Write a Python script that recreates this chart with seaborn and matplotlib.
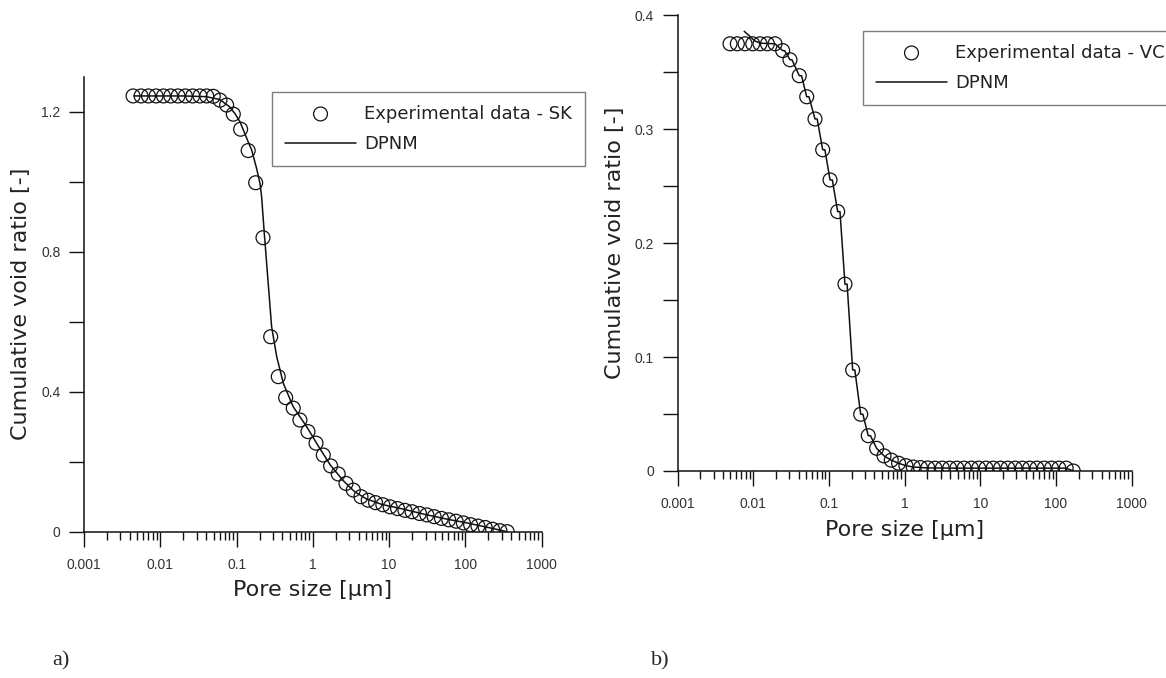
import matplotlib
matplotlib.use("Agg")
import matplotlib.pyplot as plt
import seaborn as sns
import pandas as pd
from matplotlib.ticker import LogLocator, NullFormatter

# experimental points, SK sample (panel a)
sk_size = [0.0044, 0.0056, 0.0070, 0.0088, 0.011, 0.0137, 0.0171, 0.0213, 0.0266, 0.0331,
           0.0406, 0.0495, 0.0606, 0.0741, 0.0906, 0.113, 0.142, 0.178, 0.222, 0.280,
           0.352, 0.440, 0.553, 0.677, 0.863, 1.10, 1.37, 1.71, 2.15, 2.72,
           3.39, 4.27, 5.32, 6.63, 8.27, 10.3, 12.9, 16.1, 20.0, 25.0,
           31.2, 38.9, 48.5, 60.4, 75.4, 94.0, 117, 146, 182, 227, 283, 353]
sk_void = [1.245, 1.245, 1.245, 1.245, 1.245, 1.245, 1.245, 1.245, 1.245, 1.245,
           1.245, 1.244, 1.233, 1.219, 1.193, 1.150, 1.089, 0.997, 0.840, 0.557,
           0.443, 0.383, 0.353, 0.319, 0.286, 0.253, 0.219, 0.188, 0.165, 0.138,
           0.119, 0.100, 0.090, 0.083, 0.077, 0.071, 0.066, 0.061, 0.057, 0.052,
           0.048, 0.043, 0.038, 0.034, 0.030, 0.025, 0.020, 0.016, 0.012, 0.007, 0.003, 0.0]

# DPNM model curve, SK
dpnm_sk_size = [0.0045, 0.01, 0.02, 0.04, 0.06, 0.08, 0.095, 0.111, 0.142, 0.158,
                0.183, 0.203, 0.213, 0.231, 0.260, 0.288, 0.336, 0.410, 0.553, 0.830,
                1.2, 1.7, 2.5, 3.5, 5.0, 8.0, 15.0, 30.0, 60.0, 100.0, 200.0, 350.0]
dpnm_sk_void = [1.245, 1.245, 1.245, 1.243, 1.235, 1.215, 1.195, 1.171, 1.114, 1.090,
                1.038, 0.995, 0.957, 0.852, 0.709, 0.586, 0.500, 0.424, 0.357, 0.300,
                0.242, 0.190, 0.146, 0.115, 0.094, 0.078, 0.065, 0.049, 0.035, 0.026, 0.012, 0.0]

# experimental points, VC sample (panel b)
vc_size = [0.00494, 0.00617, 0.0078, 0.00985, 0.0123, 0.0154, 0.0194, 0.0245, 0.0306, 0.0406,
           0.0509, 0.0655, 0.0828, 0.1035, 0.1306, 0.163, 0.206, 0.263, 0.331, 0.427,
           0.534, 0.667, 0.832, 1.04, 1.30, 1.62, 2.02, 2.52, 3.15, 3.93,
           4.90, 6.11, 7.63, 9.52, 11.9, 14.8, 18.5, 23.1, 28.8, 36.0,
           44.9, 56.0, 69.9, 87.2, 109, 136, 169]
vc_void = [0.375, 0.375, 0.375, 0.375, 0.375, 0.375, 0.375, 0.369, 0.361, 0.347,
           0.3285, 0.309, 0.282, 0.2555, 0.2277, 0.164, 0.0887, 0.0498, 0.031, 0.0199,
           0.0133, 0.0095, 0.0068, 0.0047, 0.0035, 0.003, 0.0027, 0.0025, 0.0025, 0.0025,
           0.0025, 0.0025, 0.0025, 0.0025, 0.0025, 0.0025, 0.0025, 0.0025, 0.0025, 0.0025,
           0.0025, 0.0025, 0.0025, 0.0025, 0.0025, 0.0025, 0.0]

# DPNM model curve, VC (small jog at every measured step)
dpnm_vc_size = [0.0076, 0.0087, 0.0105, 0.0125, 0.0194, 0.0245, 0.026, 0.0306, 0.0325, 0.0406,
                0.0435, 0.0509, 0.0545, 0.0655, 0.070, 0.0828, 0.0885, 0.1035, 0.111, 0.1306,
                0.140, 0.163, 0.174, 0.206, 0.220, 0.263, 0.281, 0.331, 0.354, 0.427,
                0.534, 0.667, 0.832, 1.04, 1.30, 2.0, 5.0, 30.0, 136.0, 169.0]
dpnm_vc_void = [0.386, 0.3825, 0.3775, 0.3755, 0.375, 0.369, 0.369, 0.361, 0.361, 0.347,
                0.347, 0.3285, 0.3285, 0.309, 0.309, 0.282, 0.282, 0.2555, 0.2555, 0.2277,
                0.2277, 0.164, 0.164, 0.0887, 0.0887, 0.0498, 0.0498, 0.031, 0.031, 0.0199,
                0.0133, 0.0095, 0.0068, 0.0047, 0.0035, 0.0027, 0.0025, 0.0025, 0.0025, 0.0]

x_ticks = [0.001, 0.01, 0.1, 1, 10, 100, 1000]
x_tick_labels = ["0.001", "0.01", "0.1", "1", "10", "100", "1000"]
sk_yticks = [0, 0.2, 0.4, 0.6, 0.8, 1.0, 1.2]
sk_ytick_labels = ["0", "", "0.4", "", "0.8", "", "1.2"]
vc_yticks = [0, 0.05, 0.1, 0.15, 0.2, 0.25, 0.3, 0.35, 0.4]
vc_ytick_labels = ["0", "", "0.1", "", "0.2", "", "0.3", "", "0.4"]

sns.set_style("ticks")
plt.rcParams["font.family"] = ["DejaVu Sans"]

fig = plt.figure(figsize=(11.66, 6.78), dpi=100)
ax1 = fig.add_axes([0.07204, 0.21578, 0.39254, 0.67109])
ax2 = fig.add_axes([0.58105, 0.30531, 0.38954, 0.67212])

ink = "#111111"


def draw_panel(ax, size, void, m_size, m_void, sample, ylim, yticks, ylabels, leg_xy):
    pts = pd.DataFrame({"size": size, "void": void})
    fit = pd.DataFrame({"size": m_size, "void": m_void})
    sns.lineplot(data=fit, x="size", y="void", ax=ax, color=ink, lw=1.1,
                 sort=False, estimator=None, label="DPNM")
    sns.scatterplot(data=pts, x="size", y="void", ax=ax, marker="o", s=100,
                    facecolor="none", edgecolor=ink, linewidth=0.9,
                    label="Experimental data - " + sample)
    ax.set_xscale("log")
    ax.set_xlim(0.001, 1000)
    ax.set_ylim(*ylim)
    ax.set_xticks(x_ticks)
    ax.set_xticklabels(x_tick_labels)
    ax.xaxis.set_minor_locator(LogLocator(base=10, subs=range(2, 10), numticks=20))
    ax.xaxis.set_minor_formatter(NullFormatter())
    ax.set_yticks(yticks)
    ax.set_yticklabels(ylabels)
    sns.despine(ax=ax)
    for side in ("left", "bottom"):
        ax.spines[side].set_linewidth(1.1)
        ax.spines[side].set_color(ink)
    ax.tick_params(axis="both", which="major", direction="out", length=11, width=1.0,
                   color=ink, labelsize=10, labelcolor="#333333")
    ax.tick_params(axis="x", which="major", pad=8)
    ax.tick_params(axis="y", which="major", pad=6)
    ax.tick_params(axis="x", which="minor", direction="out", length=6, width=1.0, color=ink)
    for lab in ax.get_xticklabels() + ax.get_yticklabels():
        lab.set_fontfamily(["Liberation Sans", "DejaVu Sans"])
    ax.set_xlabel("Pore size [\u03bcm]", fontsize=16, color="#222222", labelpad=6)
    ax.set_ylabel("Cumulative void ratio [-]", fontsize=16, color="#222222", labelpad=7)

    handles, labels = ax.get_legend_handles_labels()
    order = [labels.index("Experimental data - " + sample), labels.index("DPNM")]
    leg = ax.legend([handles[i] for i in order], [labels[i] for i in order],
                    loc="upper left", bbox_to_anchor=leg_xy, bbox_transform=fig.transFigure,
                    borderaxespad=0, fontsize=13, handlelength=3.9, handletextpad=0.45,
                    borderpad=0.72, labelspacing=0.7, frameon=True, fancybox=False,
                    framealpha=1)
    leg.get_frame().set_edgecolor("#7f7f7f")
    leg.get_frame().set_linewidth(1.0)
    for t in leg.get_texts():
        t.set_color("#222222")


draw_panel(ax1, sk_size, sk_void, dpnm_sk_size, dpnm_sk_void, "SK",
           (0, 1.3), sk_yticks, sk_ytick_labels, (0.23353, 0.86475))
draw_panel(ax2, vc_size, vc_void, dpnm_vc_size, dpnm_vc_void, "VC",
           (0, 0.4), vc_yticks, vc_ytick_labels, (0.74039, 0.95472))

fig.text(0.052, 0.026, "a)", fontsize=16, family="Liberation Serif", va="center", ha="center")
fig.text(0.566, 0.026, "b)", fontsize=16, family="Liberation Serif", va="center", ha="center")

fig.savefig("out.png", dpi=100)
